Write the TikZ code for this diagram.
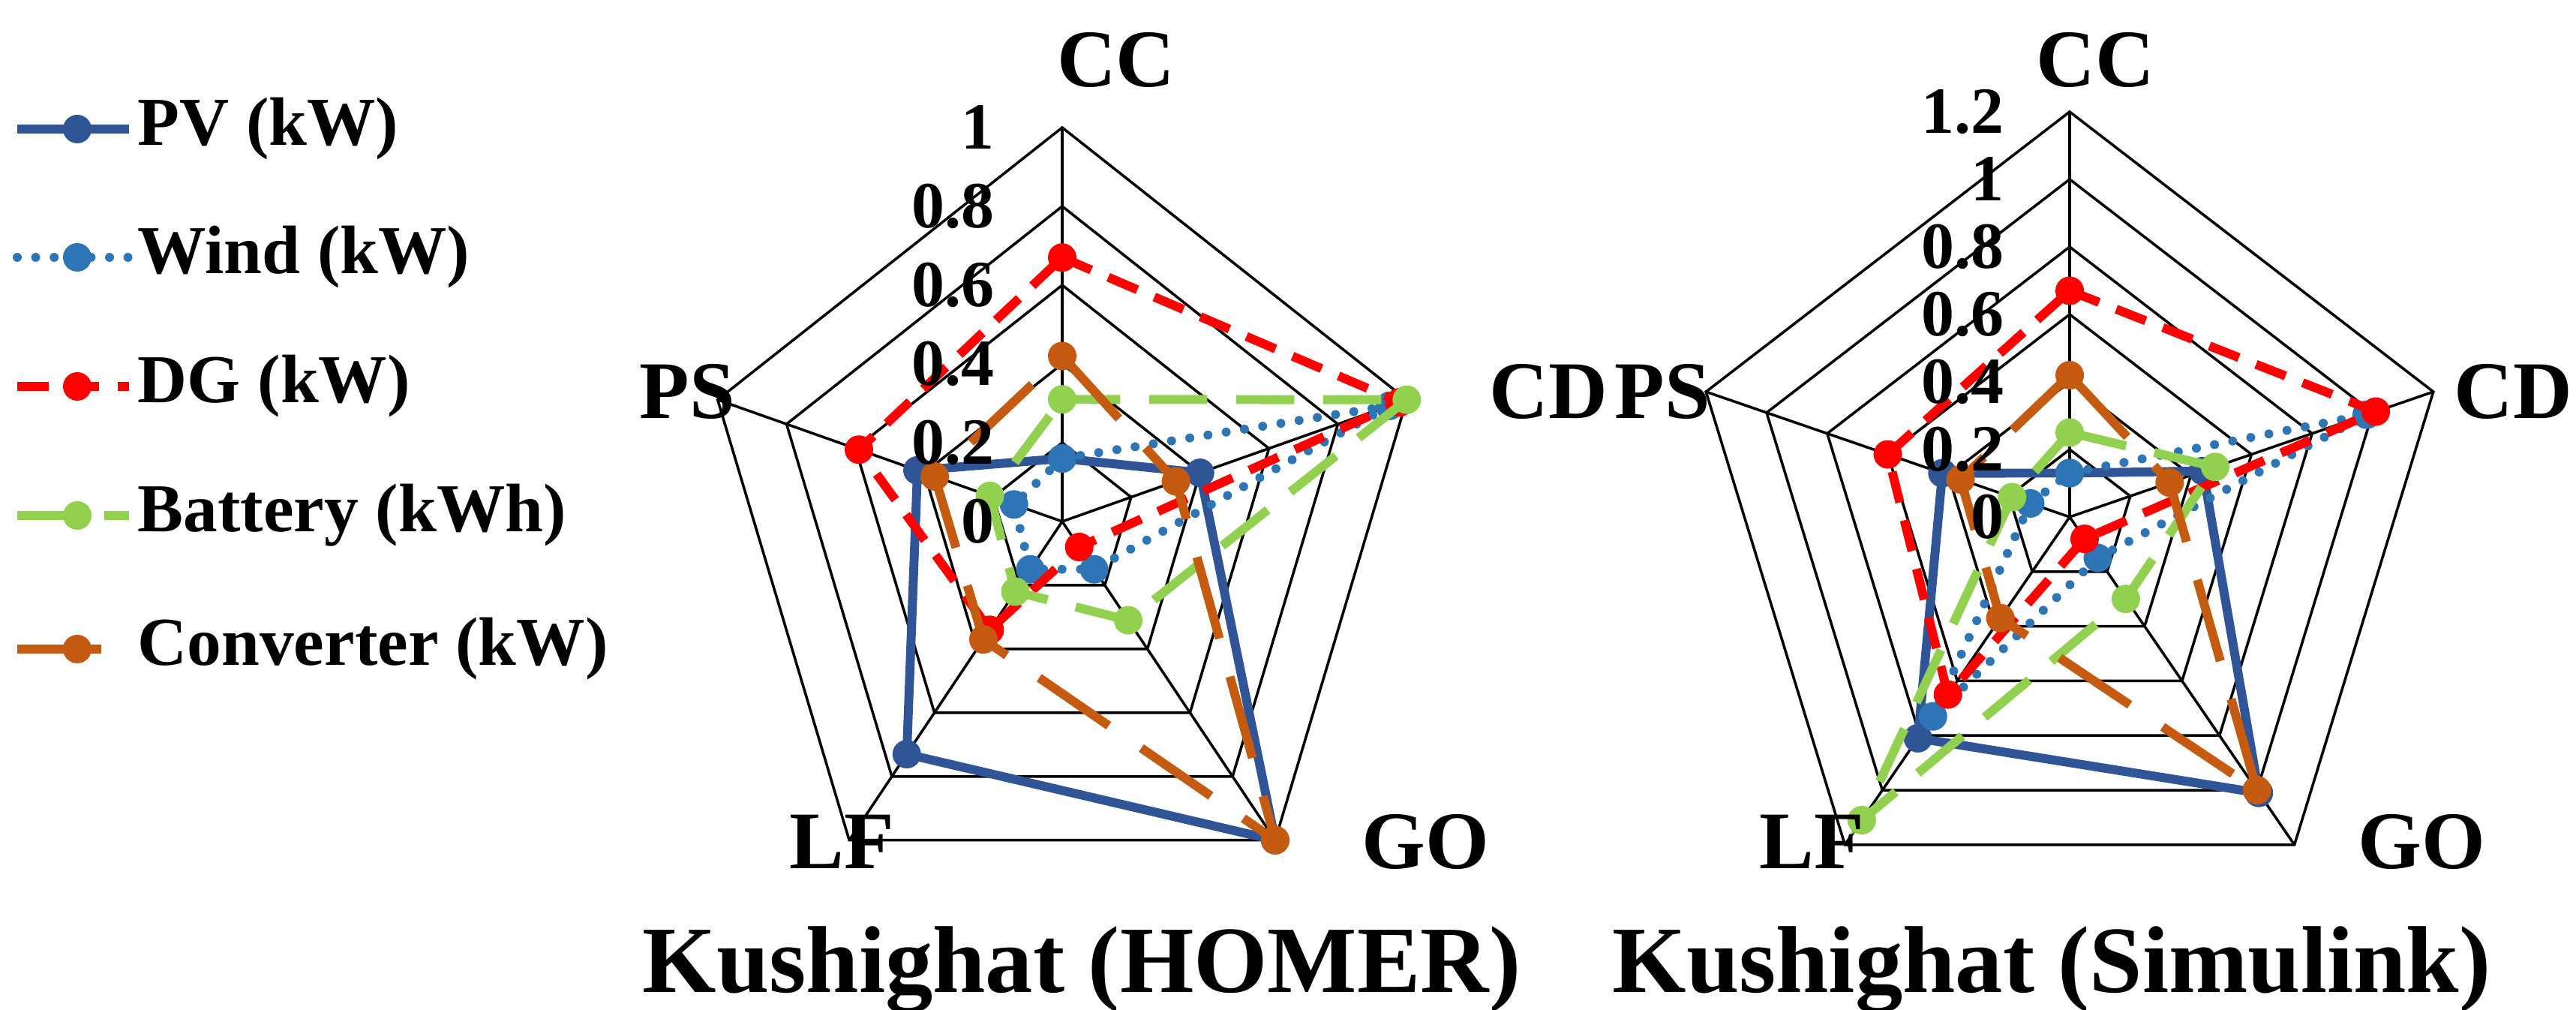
\documentclass[tikz,border=0pt]{standalone}
\usepackage{fontspec}
\setmainfont{Liberation Serif}
\usetikzlibrary{positioning}
\definecolor{pvblue}{RGB}{47,85,151}
\definecolor{windblue}{RGB}{46,117,182}
\definecolor{dgred}{RGB}{255,0,0}
\definecolor{batgreen}{RGB}{146,208,80}
\definecolor{convbrown}{RGB}{197,90,17}
\tikzset{
  grid/.style={black, line width=1pt},
  axis/.style={font=\fontsize{31}{34}\selectfont\bfseries},
  tick/.style={font=\fontsize{25}{28}\selectfont\bfseries, anchor=east, inner sep=0pt},
  title/.style={font=\fontsize{36}{40}\selectfont\bfseries},
  legtext/.style={font=\fontsize{26}{30}\selectfont\bfseries, anchor=west, inner sep=0pt},
  pv/.style={pvblue, line width=3.4pt},
  wind/.style={windblue, line width=3.4pt, line cap=round, dash pattern=on 0pt off 7pt},
  dg/.style={dgred, line width=3.4pt, dash pattern=on 12pt off 7pt},
  bat/.style={batgreen, line width=3.4pt, dash pattern=on 22pt off 11pt},
  conv/.style={convbrown, line width=3.4pt, dash pattern=on 32pt off 15pt}
}
% one series: prefix, name, style, colour, values
\newcommand{\radarseries}[5]{%
  \foreach \v [count=\k from 0] in {#5}
    \coordinate (#1-#2-\k) at (90-72*\k:\v*\unitr);
}
\newcommand{\radarline}[4]{%
  \draw[#3] (#1-#2-0) -- (#1-#2-1) -- (#1-#2-2) -- (#1-#2-3) -- (#1-#2-4) -- cycle;
  \foreach \k in {0,...,4} \fill[#4] (#1-#2-\k) circle (0.19);
}
\begin{document}
\begin{tikzpicture}
  \useasboundingbox (0,0) rectangle (34.34,13.46);

  % legend
  \foreach \s/\c/\y/\t [count=\i] in {pv/pvblue/11.74/PV (kW), wind/windblue/10.03/Wind (kW),
      dg/dgred/8.31/DG (kW), bat/batgreen/6.59/Battery (kWh), conv/convbrown/4.81/Converter (kW)} {
    \coordinate (leg\i a) at (0.23,\y);
    \coordinate (leg\i b) at (1.72,\y);
    \draw[\s] (leg\i a) -- (leg\i b);
    \fill[\c] (1.03,\y) circle (0.19);
    \node[legtext] (leg\i) at (1.83,\y) {\t};
  }

  % HOMER chart
  \def\unitr{5.25}
  \begin{scope}[shift={(14.16,6.51)}, xscale=0.92]
    \foreach \r in {1,...,5}
      \draw[grid] (90:0.2*\r*\unitr) \foreach \k in {1,...,4}{ -- (90-72*\k:0.2*\r*\unitr)} -- cycle;
    \foreach \k in {0,...,4} \draw[grid] (0,0) -- (90-72*\k:\unitr);
    \radarseries{h}{pv}{pv}{pvblue}{0.16,0.40,1.0,0.73,0.42}
    \radarseries{h}{wind}{wind}{windblue}{0.16,0.95,0.15,0.15,0.14}
    \radarseries{h}{dg}{dg}{dgred}{0.67,0.98,0.08,0.34,0.59}
    \radarseries{h}{bat}{bat}{batgreen}{0.31,1.0,0.31,0.22,0.21}
    \radarseries{h}{conv}{conv}{convbrown}{0.42,0.33,1.0,0.37,0.37}
  \end{scope}
  \radarline{h}{pv}{pv}{pvblue}
  \radarline{h}{wind}{wind}{windblue}
  \radarline{h}{dg}{dg}{dgred}
  \radarline{h}{bat}{bat}{batgreen}
  \radarline{h}{conv}{conv}{convbrown}
  \foreach \t [count=\i from 0] in {0,0.2,0.4,0.6,0.8,1}
    \node[tick] (ht\i) at (13.26,6.51+\i*1.05) {\t};
  \node[axis] (hcc) at (14.88,12.66) {CC};
  \node[axis, anchor=west, inner sep=0pt] (hcd) at (19.85,8.24) {CD};
  \node[axis] (hgo) at (19.00,2.24) {GO};
  \node[axis] (hlf) at (11.22,2.24) {LF};
  \node[axis] (hps) at (9.16,8.24) {PS};
  \node[title] (htitle) at (14.42,0.53) {Kushighat (HOMER)};

  % Simulink chart
  \def\unitr{4.5}
  \begin{scope}[shift={(27.59,6.57)}, xscale=0.944]
    \foreach \r in {1,...,6}
      \draw[grid] (90:0.2*\r*\unitr) \foreach \k in {1,...,4}{ -- (90-72*\k:0.2*\r*\unitr)} -- cycle;
    \foreach \k in {0,...,4} \draw[grid] (0,0) -- (90-72*\k:1.2*\unitr);
    \radarseries{s}{pv}{pv}{pvblue}{0.13,0.44,1.01,0.81,0.42}
    \radarseries{s}{wind}{wind}{windblue}{0.13,0.98,0.15,0.73,0.13}
    \radarseries{s}{dg}{dg}{dgred}{0.67,1.01,0.08,0.65,0.60}
    \radarseries{s}{bat}{bat}{batgreen}{0.25,0.48,0.30,1.11,0.19}
    \radarseries{s}{conv}{conv}{convbrown}{0.42,0.33,1.0,0.37,0.36}
  \end{scope}
  \radarline{s}{pv}{pv}{pvblue}
  \radarline{s}{wind}{wind}{windblue}
  \radarline{s}{dg}{dg}{dgred}
  \radarline{s}{bat}{bat}{batgreen}
  \radarline{s}{conv}{conv}{convbrown}
  \foreach \t [count=\i from 0] in {0,0.2,0.4,0.6,0.8,1,1.2}
    \node[tick] (st\i) at (26.72,6.57+\i*0.9) {\t};
  \node[axis] (scc) at (27.93,12.66) {CC};
  \node[axis, anchor=east, inner sep=0pt] (scd) at (34.30,8.24) {CD};
  \node[axis] (sgo) at (32.28,2.24) {GO};
  \node[axis] (slf) at (24.15,2.24) {LF};
  \node[axis] (sps) at (22.16,8.24) {PS};
  \node[title] (stitle) at (27.35,0.53) {Kushighat (Simulink)};
\end{tikzpicture}
\end{document}
